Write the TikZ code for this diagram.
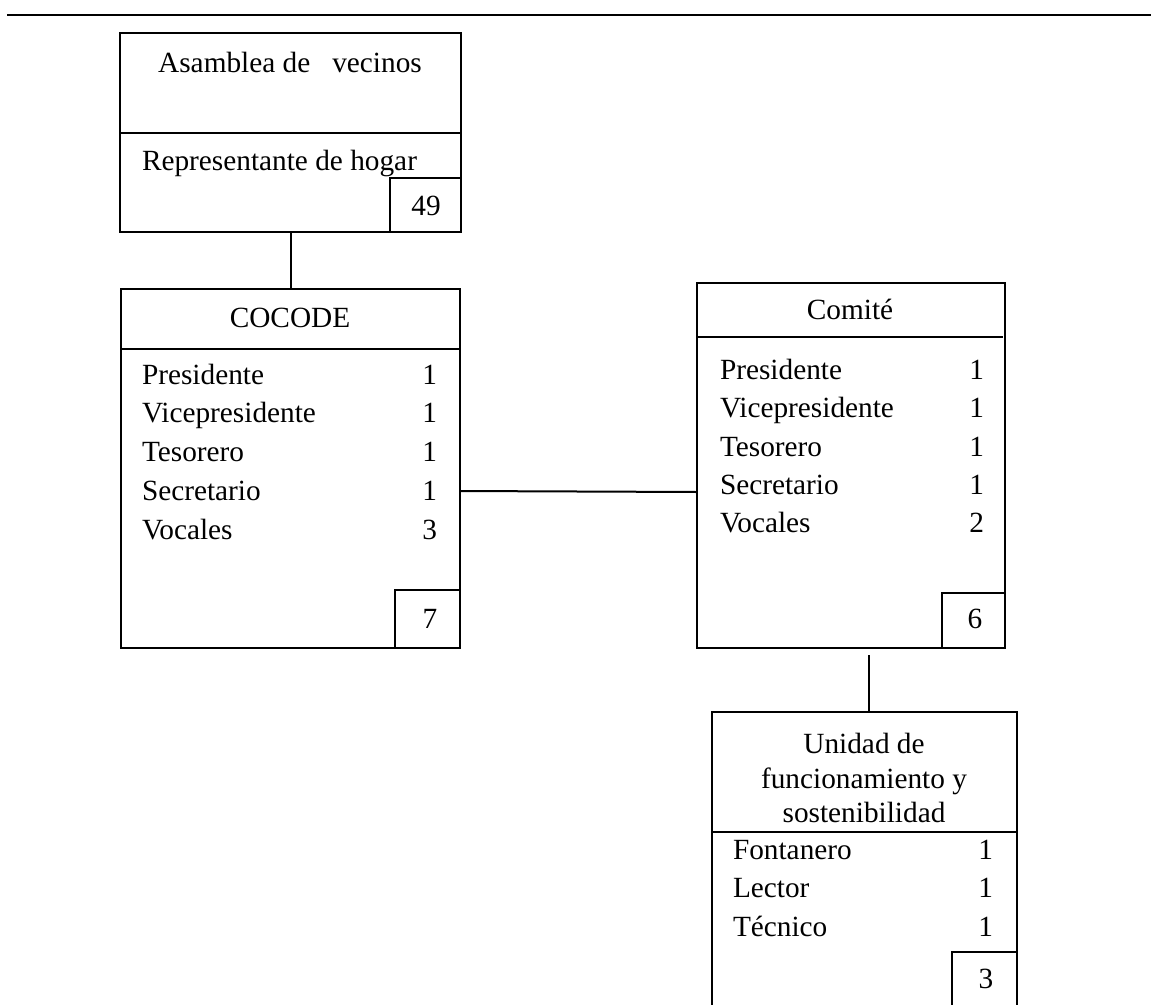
\documentclass[tikz,border=0pt]{standalone}
\usepackage{fontspec}
\setmainfont{Liberation Serif}
\begin{document}
\begin{tikzpicture}[x=1pt,y=-1pt,
  box/.style={draw, line width=2.8pt, anchor=north west, inner sep=0pt, outer sep=0pt},
  numbox/.style={draw, line width=2.4pt, anchor=south east, inner sep=0pt, outer sep=0pt},
  txt/.style={font=\fontsize{29.3}{35}\selectfont, inner sep=0pt, outer sep=0pt},
  lbl/.style={txt, anchor=base west},
  val/.style={txt, anchor=base east},
  ctr/.style={txt, anchor=base},
  divider/.style={line width=2.2pt},
  conn/.style={line width=2pt}]
\useasboundingbox (0,0) rectangle (1151,1004);
\fill[white] (0,0) rectangle (1151,1004);
% top rule
\coordinate (ruleL) at (7,15);
\coordinate (ruleR) at (1151,15);
\draw[line width=2.8pt] (ruleL) -- (ruleR);

% Asamblea
\node[box, minimum width=341pt, minimum height=199pt] (asam) at (120,33) {};
\draw[divider] (asam.west |- 0,133) -- (asam.east |- 0,133);
\node[numbox, minimum width=71pt, minimum height=54pt] (asamN) at (asam.south east) {};
\node[ctr] (asamT) at (290,72) {Asamblea de\ \ \ vecinos};
\node[lbl] (asamR) at (142,170) {Representante de hogar};
\node[ctr] (asamV) at (426,215) {49};

% COCODE
\node[box, minimum width=339pt, minimum height=359pt] (coc) at (121,289) {};
\draw[divider] (coc.west |- 0,349) -- (coc.east |- 0,349);
\node[numbox, minimum width=65pt, minimum height=58pt] (cocN) at (coc.south east) {};
\node[ctr] (cocT) at (290,327) {COCODE};
\node[lbl] (coc1) at (142,384) {Presidente};
\node[lbl] (coc2) at (142,422) {Vicepresidente};
\node[lbl] (coc3) at (142,461) {Tesorero};
\node[lbl] (coc4) at (142,500) {Secretario};
\node[lbl] (coc5) at (142,539) {Vocales};
\node[val] (cocv1) at (437,384) {1};
\node[val] (cocv2) at (437,422) {1};
\node[val] (cocv3) at (437,461) {1};
\node[val] (cocv4) at (437,500) {1};
\node[val] (cocv5) at (437,539) {3};
\node[ctr] (cocV) at (430,628) {7};

% Comite
\node[box, minimum width=308pt, minimum height=365pt] (com) at (697,283) {};
\draw[divider] (com.west |- 0,337) -- (1003,337);
\node[numbox, minimum width=63pt, minimum height=55pt] (comN) at (com.south east) {};
\node[ctr] (comT) at (850,319) {Comité};
\node[lbl] (com1) at (720,379) {Presidente};
\node[lbl] (com2) at (720,417) {Vicepresidente};
\node[lbl] (com3) at (720,456) {Tesorero};
\node[lbl] (com4) at (720,494) {Secretario};
\node[lbl] (com5) at (720,532) {Vocales};
\node[val] (comv1) at (984,379) {1};
\node[val] (comv2) at (984,417) {1};
\node[val] (comv3) at (984,456) {1};
\node[val] (comv4) at (984,494) {1};
\node[val] (comv5) at (984,532) {2};
\node[ctr] (comV) at (975,628) {6};

% Unidad
\node[box, minimum width=305pt, minimum height=300pt] (uni) at (712,712) {};
\draw[divider] (uni.west |- 0,832) -- (uni.east |- 0,832);
\node[numbox, minimum width=65pt, minimum height=60pt] (uniN) at (uni.south east) {};
\node[ctr] (uniT1) at (864,753) {Unidad de};
\node[ctr] (uniT2) at (864,788) {funcionamiento y};
\node[ctr] (uniT3) at (864,822) {sostenibilidad};
\node[lbl] (uni1) at (733,859) {Fontanero};
\node[lbl] (uni2) at (733,897) {Lector};
\node[lbl] (uni3) at (733,936) {Técnico};
\node[val] (univ1) at (993,859) {1};
\node[val] (univ2) at (993,897) {1};
\node[val] (univ3) at (993,936) {1};
\node[ctr] (uniV) at (986,988) {3};

% connectors
\draw[conn] (asam.south) -- (coc.north);
\coordinate (cc) at (0,491);
\draw[conn] (coc.east |- cc) -- (com.west |- 0,492);
\coordinate (cu) at (869,655);
\draw[conn] (cu) -- (cu |- uni.north);
\end{tikzpicture}
\end{document}
